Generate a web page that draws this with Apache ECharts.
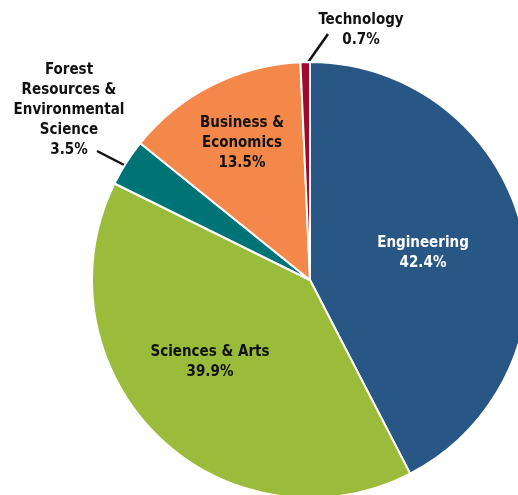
<!DOCTYPE html>
<html>
<head>
<meta charset="utf-8">
<script src="https://cdn.jsdelivr.net/npm/echarts@6/dist/echarts.min.js"></script>
<style>
html, body { margin: 0; padding: 0; background: #fff; }
#main { width: 518px; height: 495px; }
</style>
</head>
<body>
<div id="main"></div>
<script>
// college share of enrollment, clockwise from 12 o'clock
const colleges = ['Engineering', 'Sciences & Arts', 'Forest\nResources &\nEnvironmental\nScience', 'Business &\nEconomics', 'Technology'];
const shares = [42.4, 39.9, 3.5, 13.5, 0.7];
const colors = ['#285685', '#9bbb3a', '#007377', '#f4874a', '#a0092b'];

const FONT = '"DejaVu Sans Condensed", "Roboto", sans-serif';

// where each label goes (center of text block) and leader lines for small slices
const labelPos = {
    'Engineering': { x: 423, y: 253 },
    'Sciences & Arts': { x: 210, y: 362 },
    'Business &\nEconomics': { x: 242, y: 143 },
    'Technology': { x: 361, y: 30, line: [[304, 68], [328, 34]] },
    'Forest\nResources &\nEnvironmental\nScience': { x: 69, y: 110, line: [[130, 168], [97, 151]] }
};

const myChart = echarts.init(document.getElementById('main'));

const option = {
    animation: false,
    series: [{
        type: 'pie',
        center: [310, 280],
        radius: 218,
        startAngle: 90,
        clockwise: true,
        avoidLabelOverlap: false,
        itemStyle: { borderColor: '#fff', borderWidth: 2 },
        label: {
            show: true,
            position: 'inside',
            fontFamily: FONT,
            fontWeight: 'bold',
            fontSize: 15,
            lineHeight: 20,
            color: '#111',
            formatter: p => p.name + '\n' + p.value.toFixed(1) + '%'
        },
        labelLine: { show: false },
        labelLayout: function (params) {
            const name = colleges[params.dataIndex];
            const pos = labelPos[name];
            const res = { x: pos.x, y: pos.y, align: 'center', verticalAlign: 'middle' };
            if (pos.line) res.labelLinePoints = pos.line;
            return res;
        },
        data: colleges.map((name, i) => {
            const item = { name: name, value: shares[i], itemStyle: { color: colors[i] } };
            if (name === 'Engineering') item.label = { color: '#fff' };
            if (name === 'Technology' || name.startsWith('Forest')) {
                item.label = { position: 'outside' };
                item.labelLine = { show: true, lineStyle: { color: '#111', width: 2.5 } };
            }
            return item;
        })
    }]
};

myChart.setOption(option);
</script>
</body>
</html>
